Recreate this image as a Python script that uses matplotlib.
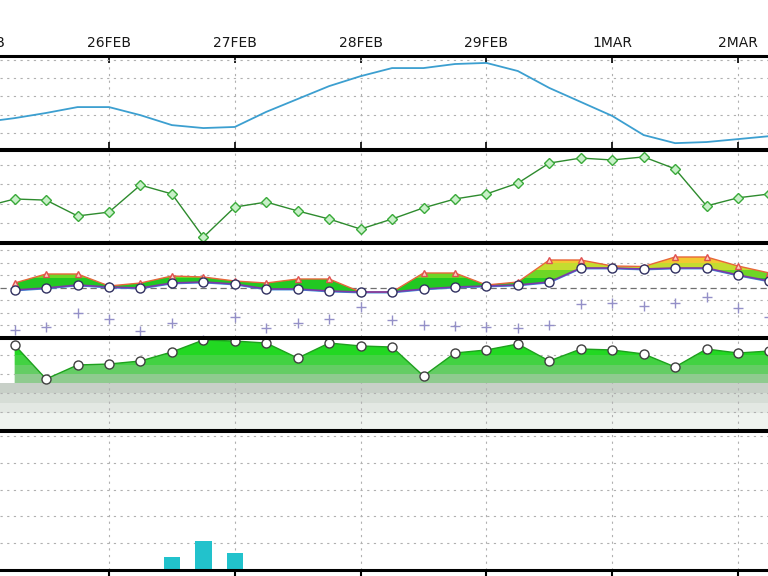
import numpy as np
import matplotlib
matplotlib.use('Agg')
import matplotlib.pyplot as plt

# ----------------------------
# data (days counted from 25FEB 00Z, 6-hourly)
# ----------------------------
day_labels = ['25FEB', '26FEB', '27FEB', '28FEB', '29FEB', '1MAR', '2MAR']
day_pos = np.arange(len(day_labels))

t_full = np.arange(0, 6.5, 0.25)      # 26 steps
t_short = np.arange(0.25, 6.5, 0.25)  # 25 steps

# panel 1: mean sea level pressure
mslp = [1013.0, 1014.1, 1015.5, 1017.1, 1017.1, 1014.9, 1012.2, 1011.4, 1011.7,
        1015.8, 1019.3, 1022.8, 1025.5, 1027.7, 1027.7, 1028.8, 1029.1, 1026.9,
        1022.3, 1018.5, 1014.7, 1009.5, 1007.3, 1007.6, 1008.4, 1009.2]

# panel 2: 2m temperature
t2m = [4.1, 6.2, 5.9, 1.8, 2.8, 9.8, 7.5, -3.7, 4.1, 5.4, 3.1, 1.0, -1.6, 1.0,
       3.9, 6.2, 7.5, 10.3, 15.5, 16.8, 16.3, 17.1, 14.0, 4.4, 6.5, 7.5]

# panel 3: upper / lower temperature envelope and the low series (+)
t_low = [-1.0, -0.2, 1.0, 0.2, -0.2, 1.8, 2.2, 1.4, -0.6, -0.6, -1.4, -1.8, -1.8,
         -0.6, 0.2, 0.6, 1.0, 2.2, 7.8, 7.8, 7.4, 7.8, 7.8, 5.0, 2.6]
t_high = [1.8, 5.4, 5.4, 0.6, 1.8, 4.6, 4.2, 2.6, 1.8, 3.4, 3.4, -1.8, -1.8,
          5.8, 5.8, 1.0, 2.2, 11.0, 11.0, 8.6, 8.4, 12.2, 12.2, 8.6, 5.8]
t_cross = [-17.0, -15.8, -10.2, -12.6, -17.4, -14.2, -21.0, -11.8, -16.2, -14.2,
           -12.6, -7.8, -13.0, -15.0, -15.4, -15.8, -16.2, -15.0, -6.6, -6.2,
           -7.4, -6.2, -3.8, -8.2, -11.8]

# panel 4: relative humidity
rh = [90.5, 54.7, 69.5, 70.5, 73.7, 83.2, 95.8, 94.7, 92.6, 76.8, 92.6, 89.5,
      88.4, 57.9, 82.1, 85.3, 91.6, 73.7, 86.3, 85.3, 81.1, 67.4, 86.3, 82.1, 84.2]

# panel 5: precipitation
t_rain = [1.5, 1.75, 2.0]
rain = [0.97, 2.17, 1.27]

# ----------------------------
# figure layout
# ----------------------------
W, H = 768, 576
fig = plt.figure(figsize=(7.68, 5.76), dpi=100)

def panel(top, bottom):
    return fig.add_axes([0, 1 - bottom / H, 1, (bottom - top) / H])

ax1 = panel(56, 149)
ax2 = panel(150, 242)
ax3 = panel(243, 337)
ax4 = panel(338, 430)
ax5 = panel(431, 570)
axes = [ax1, ax2, ax3, ax4, ax5]

xlim = (0.1335, 6.2385)
grid_kw = dict(color='#b0b0b0', linestyle=(0, (2, 4)), linewidth=0.8)

for ax in axes:
    ax.set_xticks(day_pos)
    ax.set_xlim(xlim)
    ax.tick_params(length=0, labelleft=False, labelbottom=False)
    ax.grid(True, **grid_kw)
    ax.set_axisbelow(True)
    for s in ['left', 'right']:
        ax.spines[s].set_visible(False)
    for s in ['top', 'bottom']:
        ax.spines[s].set_linewidth(2.2)
        ax.spines[s].set_color('black')
        ax.spines[s].set_zorder(10)

# panel 1
ax1.plot(t_full, mslp, color='#3c9fd0', lw=1.3)
ax1.set_ylim(1005.71, 1030.98)
ax1.set_yticks([1010, 1015, 1020, 1025, 1030])
ax1.tick_params(axis='x', top=True, direction='in', length=5, width=1.2)
for d, lab in zip(day_pos, day_labels):
    ax1.annotate(lab, xy=(d, 1), xycoords=('data', 'axes fraction'),
                 xytext=(0, 4), textcoords='offset points', ha='center',
                 va='bottom', fontsize=10, color='#181818',
                 annotation_clip=False)

# panel 2
ax2.plot(t_full, t2m, color='#2e8b2e', lw=1.0, marker='D', markersize=5,
         markerfacecolor='#c8f0c8', markeredgecolor='#3aaa3a', markeredgewidth=1)
ax2.set_ylim(-4.95, 18.89)
ax2.set_yticks([0, 5, 10, 15])

# panel 3
ax3.set_ylim(-19.8, 17.8)
ax3.set_yticks([-15, -10, -5, 5, 10, 15])
ax3.axhline(0, color='#707070', lw=0.9, linestyle=(0, (5, 3)), zorder=1)
env = ax3.fill_between(t_short, t_low, t_high, color='none', lw=0)
env_path = env.get_paths()[0]
bands3 = [(-30, 4, '#22c822'), (4, 7, '#6ed626'), (7, 10, '#c4dc30'), (10, 30, '#f2c832')]
for lo, hi, c in bands3:
    sp = ax3.axhspan(lo, hi, color=c, lw=0, zorder=2)
    sp.set_clip_path(env_path, ax3.transData)
ax3.plot(t_short, t_high, color='#e8663a', lw=1.0, marker='^', markersize=4,
         markerfacecolor='#ffd0c0', markeredgecolor='#e05050', zorder=4)
ax3.plot(t_short, np.array(t_low) - 0.3, color='#3a8ad8', lw=1.0, zorder=3)
ax3.plot(t_short, t_low, color='#7a3aa8', lw=1.2, marker='o', markersize=6.5,
         markerfacecolor='white', markeredgecolor='#303060', markeredgewidth=1,
         zorder=5)
ax3.plot(t_short, t_cross, linestyle='none', marker='+', markersize=7,
         markeredgewidth=1, color='#9490c8', zorder=5)

# panel 4
ax4.set_ylim(1.05, 97.9)
ax4.set_yticks([20, 40, 60, 80])
grays = [(40.0, 50.5, '#c8d0c8'), (29.5, 40.0, '#d6ddd6'), (19.0, 29.5, '#e3e8e3'),
         (0, 19.0, '#eff3ef')]
for lo, hi, c in grays:
    ax4.axhspan(lo, hi, color=c, lw=0, zorder=0.5)
wet = ax4.fill_between(t_short, 50.5, rh, color='none', lw=0)
wet_path = wet.get_paths()[0]
bands4 = [(50.5, 60, '#8fcb8f'), (60, 70, '#64cd64'), (70, 80, '#42d242'),
          (80, 110, '#22d822')]
for lo, hi, c in bands4:
    sp = ax4.axhspan(lo, hi, color=c, lw=0, zorder=2)
    sp.set_clip_path(wet_path, ax4.transData)
ax4.plot(t_short, rh, color='#1ea01e', lw=1.0, marker='o', markersize=6.5,
         markerfacecolor='white', markeredgecolor='#404040', markeredgewidth=1,
         zorder=5)

# panel 5
ax5.bar(t_rain, rain, width=0.13, color='#22c2cc', zorder=3)
ax5.set_ylim(0, 10.39)
ax5.set_yticks([2, 4, 6, 8, 10])
ax5.tick_params(axis='x', bottom=True, direction='out', length=6, width=1.5)

fig.savefig('out.png', dpi=100)
